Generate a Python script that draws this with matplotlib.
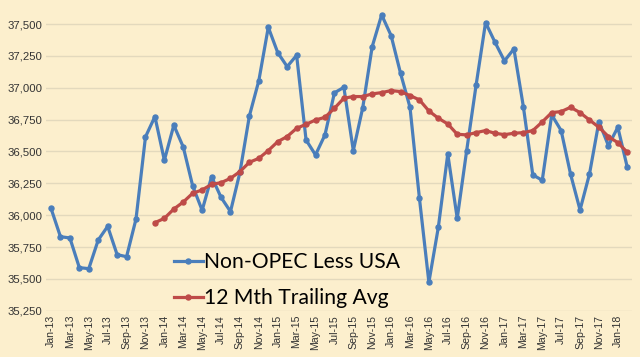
import matplotlib
matplotlib.use("Agg")
import matplotlib.pyplot as plt
from matplotlib.ticker import FuncFormatter

# Monthly production, Jan-13 .. Feb-18 (kb/d)
non_opec_less_usa = [
    36054, 35831, 35821, 35588, 35580, 35805, 35912, 35690, 35674, 35970, 36614, 36774,
    36431, 36706, 36535, 36229, 36038, 36302, 36140, 36028, 36336, 36779, 37056, 37475,
    37276, 37166, 37255, 36590, 36473, 36630, 36960, 37004, 36507, 36844, 37323, 37572,
    37410, 37114, 36847, 36132, 35473, 35905, 36480, 35975, 36507, 37022, 37512, 37357,
    37211, 37305, 36852, 36316, 36274, 36787, 36664, 36321, 36041, 36323, 36734, 36546,
    36690, 36376,
]

# 12 month trailing average, starts Dec-13
trailing_avg = [
    35941,
    35975, 36048, 36103, 36172, 36198, 36242, 36255, 36289, 36342, 36415, 36446, 36507,
    36577, 36617, 36682, 36713, 36747, 36768, 36839, 36918, 36931, 36931, 36952, 36962,
    36978, 36970, 36939, 36905, 36818, 36761, 36716, 36635, 36630, 36648, 36664, 36643,
    36632, 36643, 36648, 36664, 36732, 36805, 36813, 36847, 36805, 36747, 36690, 36617,
    36569, 36494,
]

month_names = ["Jan", "Feb", "Mar", "Apr", "May", "Jun",
               "Jul", "Aug", "Sep", "Oct", "Nov", "Dec"]
years = [13, 14, 15, 16, 17, 18]
months = [f"{m}-{y}" for y in years for m in month_names][:len(non_opec_less_usa)]

bg = "#FCEFCD"
blue = "#4A7EBB"
red = "#BE4B48"

fig = plt.figure(figsize=(6.4, 3.57), dpi=100, facecolor=bg)
ax = fig.add_axes([0.0723, 0.1297, 0.9152, 0.8703], facecolor=bg)

x_all = list(range(len(non_opec_less_usa)))
x_avg = x_all[len(non_opec_less_usa) - len(trailing_avg):]

ax.plot(x_all, non_opec_less_usa, color=blue, lw=2.3, marker="o", ms=3.6,
        label="Non-OPEC Less USA", zorder=3)
ax.plot(x_avg, trailing_avg, color=red, lw=2.3, marker="o", ms=3.6,
        label="12 Mth Trailing Avg", zorder=3)

ax.set_xlim(-0.5, len(x_all) - 0.5)
ax.set_ylim(35250, 37689)
ax.set_yticks(range(35250, 37501, 250))
ax.yaxis.set_major_formatter(FuncFormatter(lambda v, p: f"{int(v):,}"))
ax.grid(axis="y", color="#E3D9BD", lw=1.0)
ax.set_axisbelow(True)

ax.set_xticks(x_all[::2])
ax.set_xticklabels(months[::2], rotation=90, fontsize=7.6,
                   family="Liberation Sans", color="#333333")
for lbl in ax.get_yticklabels():
    lbl.set_family("Liberation Sans")
    lbl.set_fontsize(8.2)
    lbl.set_color("#333333")
ax.tick_params(length=0, pad=3)

for s in ax.spines.values():
    s.set_visible(False)

leg = ax.legend(loc="lower left", bbox_to_anchor=(0.204, -0.02), frameon=False,
                prop={"family": "Lato", "size": 15.2}, handlelength=1.35,
                handletextpad=0.05, labelspacing=0.78, borderaxespad=0)

fig.savefig("out.png", dpi=100, facecolor=bg)
